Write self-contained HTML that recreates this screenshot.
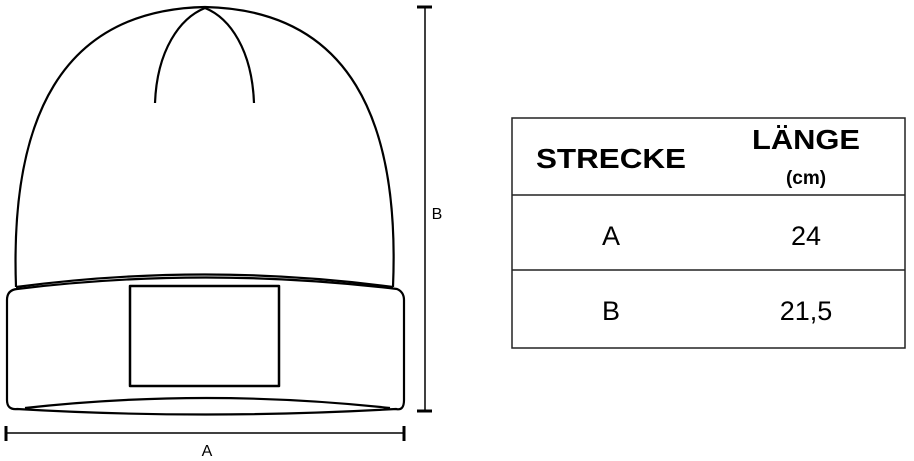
<!DOCTYPE html>
<html><head><meta charset="utf-8"><style>
html,body{margin:0;padding:0;background:#fff;width:914px;height:461px;overflow:hidden}
svg{display:block}
</style></head><body>
<svg width="914" height="461" viewBox="0 0 914 461" xmlns="http://www.w3.org/2000/svg" font-family="Liberation Sans, Arial, sans-serif">
<g fill="none" stroke="#000" stroke-width="2.2" stroke-linejoin="round">
<path d="M16,287 C10,120 60,10 205,7 C350,10 400,120 393,287"/>
<path d="M16,287 Q205,262 393,287"/>
<path d="M155,103 C157,50 180,18 205,8 C230,18 252,50 254,103"/>
<path d="M17,289 Q205,266 397,289 Q404,292 404,300 L404,400 Q404,411 396,409 Q205,420 17,409 Q7,410 7,400 L7,300 Q7,290 17,289 Z"/>
<path d="M25,408 Q205,388 390,408"/>
<rect x="130" y="286" width="149" height="100" stroke-width="2.5"/>
</g>
<g stroke="#000" fill="none">
<line x1="6" y1="433" x2="404" y2="433" stroke-width="1.5"/>
<line x1="6" y1="426" x2="6" y2="441" stroke-width="3"/>
<line x1="404" y1="426" x2="404" y2="441" stroke-width="3"/>
<line x1="425" y1="7" x2="425" y2="411" stroke-width="1.5"/>
<line x1="417" y1="7" x2="432" y2="7" stroke-width="3"/>
<line x1="417" y1="411" x2="432" y2="411" stroke-width="3"/>
</g>
<text x="207" y="456" font-size="16" text-anchor="middle">A</text>
<text x="437" y="219" font-size="16" text-anchor="middle">B</text>
<g stroke="#222" fill="none" stroke-width="1.5">
<rect x="512" y="118" width="393" height="230"/>
<line x1="512" y1="195" x2="905" y2="195"/>
<line x1="512" y1="270" x2="905" y2="270"/>
</g>
<text x="611" y="168" font-size="28" font-weight="bold" text-anchor="middle" textLength="150" lengthAdjust="spacingAndGlyphs">STRECKE</text>
<text x="806" y="149" font-size="28" font-weight="bold" text-anchor="middle" textLength="108" lengthAdjust="spacingAndGlyphs">LÄNGE</text>
<text x="806" y="184" font-size="19" font-weight="bold" text-anchor="middle">(cm)</text>
<text x="611" y="245" font-size="27" text-anchor="middle">A</text>
<text x="806" y="245" font-size="27" text-anchor="middle">24</text>
<text x="611" y="320" font-size="27" text-anchor="middle">B</text>
<text x="806" y="320" font-size="27" text-anchor="middle">21,5</text>
</svg>
</body></html>
